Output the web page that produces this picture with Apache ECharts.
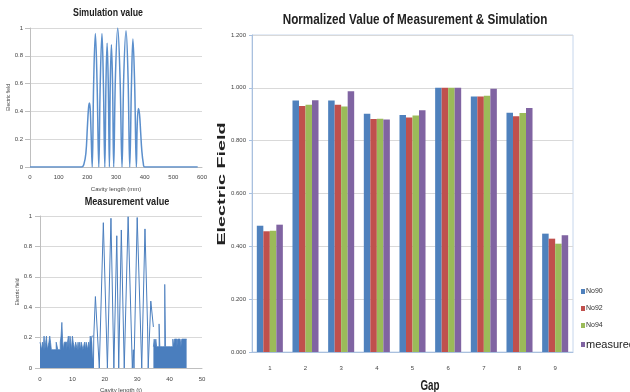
<!DOCTYPE html>
<html>
<head>
<meta charset="utf-8">
<script src="https://cdn.jsdelivr.net/npm/echarts@6/dist/echarts.min.js"></script>
<style>
  html, body { margin: 0; padding: 0; background: #fff; }
  #chart { width: 630px; height: 392px; }
</style>
</head>
<body>
<div id="chart"></div>
<script>
// Right: normalized field per gap (3 simulations + measurement)
const gaps = ['1', '2', '3', '4', '5', '6', '7', '8', '9'];
const no90 = [0.478, 0.952, 0.952, 0.902, 0.897, 1.000, 0.967, 0.906, 0.448];
const no92 = [0.457, 0.931, 0.936, 0.882, 0.888, 1.000, 0.967, 0.892, 0.429];
const no94 = [0.459, 0.936, 0.929, 0.883, 0.895, 1.000, 0.970, 0.905, 0.410];
const measured = [0.482, 0.953, 0.987, 0.880, 0.915, 1.000, 0.997, 0.924, 0.442];

// Top left: simulated field along the cavity (mm)
const simX = [0, 100, 180, 188, 195, 200, 204, 207, 210, 213, 217,
  222, 228, 234, 240, 245, 251, 256, 261, 265, 269, 273, 277,
  280, 284, 288, 292, 298, 306, 314, 321, 327, 335, 342, 348,
  354, 359, 365, 371, 374, 378, 382, 386, 390, 395, 400, 500, 585];
const simY = [0, 0, 0, 0.02, 0.1, 0.28, 0.42, 0.46, 0.42, 0.25, 0,
  0.6, 0.96, 0.6, 0, 0.6, 0.96, 0.6, 0, 0.6, 0.89, 0.6, 0,
  0.6, 0.88, 0.6, 0, 0.65, 1.0, 0.65, 0, 0.65, 0.98, 0.65, 0,
  0.6, 0.92, 0.6, 0, 0.3, 0.42, 0.38, 0.25, 0.12, 0.03, 0, 0, 0];

// Bottom left: measured field (t). Noise floor levels sampled every 0.25,
// drawn as a filled step trace (solid band in the picture).
const noiseStep = 0.25;
const noiseAStart = 0;
const noiseA = [0.17, 0.17, 0.17, 0.12, 0.17, 0.12, 0.21, 0.12, 0.17,
  0.21, 0.12, 0.12, 0.17, 0.21, 0.17, 0.12, 0.12, 0.12, 0.12, 0.12, 0.12,
  0.17, 0.17, 0.12, 0.12, 0.12, 0.17, 0.21, 0.30, 0.17, 0.12, 0.17, 0.17,
  0.17, 0.12, 0.17, 0.21, 0.12, 0.21, 0.17, 0.12, 0.21, 0.17, 0.17, 0.12,
  0.17, 0.17, 0.12, 0.17, 0.12, 0.17, 0.12, 0.17, 0.17, 0.12, 0.12, 0.17,
  0.12, 0.17, 0.17, 0.12, 0.17, 0.12, 0.21, 0.17, 0.21, 0.21];
const peakX = [16.5, 16.6, 17.1, 17.7, 18.3, 19.55, 20.8, 21.9, 22.8, 23.7, 24.3,
  25.1, 26.0, 27.2, 28.5, 28.8, 29.0, 30.0, 31.4, 32.4, 33.2, 33.4, 34.2, 35.0];
const peakY = [0, 0.21, 0.47, 0.47, 0, 0.956, 0, 0.985, 0, 0.87, 0,
  0.908, 0, 0.995, 0, 0.12, 0, 0.99, 0, 0.915, 0.27, 0, 0.44, 0.27];
const noiseBStart = 35.0;
const noiseB = [0.14, 0.14, 0.19, 0.14, 0.19, 0.14, 0.14, 0.14,
  0.29, 0.14, 0.14, 0.14, 0.14, 0.14, 0.14, 0.55, 0.14, 0.14, 0.14, 0.14,
  0.14, 0.14, 0.14, 0.14, 0.14, 0.19, 0.14, 0.19, 0.19, 0.19, 0.14, 0.19,
  0.19, 0.19, 0.19, 0.14, 0.19, 0.19, 0.19, 0.19, 0.19, 0.19];

const noisePoints = (start, levels) => levels.map((v, i) => [start + i * noiseStep, v]);
const simData = simX.map((x, i) => [x, simY[i]]);
const peakData = peakX.map((x, i) => [x, peakY[i]]);

const colors = ['#4F81BD', '#C0504D', '#9BBB59', '#8064A2'];
const measColor = '#4A7EBE';
const sans = 'Liberation Sans';
const small = { fontFamily: sans, fontSize: 6, color: '#444' };
const gridLine = { lineStyle: { color: '#D9D9D9', width: 1 } };

// titles drawn as graphic text so they can be squeezed like the narrow originals
function label(text, x, y, size, opts) {
  return Object.assign({
    type: 'text', x, y, silent: true,
    style: {
      text, x: 0, y: 0, align: 'center', verticalAlign: 'middle',
      fontFamily: sans, fontSize: size, fontWeight: 'bold', fill: '#222',
    },
  }, opts);
}

const chart = echarts.init(document.getElementById('chart'), null, { renderer: 'canvas' });

chart.setOption({
  animation: false,
  color: colors,
  graphic: [
    label('Normalized Value of Measurement & Simulation', 415, 20, 15, { scaleX: 0.78 }),
    label('Simulation value', 108, 13, 11, { scaleX: 0.8 }),
    label('Measurement value', 127, 202, 11, { scaleX: 0.83 }),
    label('Electric Field', 222, 184, 11, { rotation: Math.PI / 2, scaleX: 1.8 }),
    label('Gap', 430, 386, 14, { scaleX: 0.7 }),
  ],
  legend: {
    data: ['No90', 'No92', 'No94', 'measured'],
    orient: 'vertical',
    left: 576, top: 283,
    itemWidth: 4, itemHeight: 5, itemGap: 10,
    icon: 'rect',
    formatter: (name) => (name === 'measured' ? '{b|measured}' : '{s|' + name + '}'),
    textStyle: {
      padding: [0, 0, 0, -4],
      rich: {
        s: { fontFamily: sans, fontSize: 7, color: '#333' },
        b: { fontFamily: sans, fontSize: 11, color: '#222' },
      },
    },
  },
  grid: [
    { left: 252, right: 57, top: 35, bottom: 40, show: true, borderColor: '#C6D6EC', borderWidth: 1, outerBoundsMode: 'none' },
    { left: 30, width: 172, top: 28, height: 139, outerBoundsMode: 'none' },
    { left: 40, width: 162, top: 216, height: 152, outerBoundsMode: 'none' },
  ],
  xAxis: [
    {
      gridIndex: 0, type: 'category', data: gaps,
      axisLine: { lineStyle: { color: '#A9C0DE' } },
      axisTick: { show: false },
      axisLabel: { margin: 13, fontFamily: sans, fontSize: 6, color: '#444' },
    },
    {
      gridIndex: 1, type: 'value', min: 0, max: 600, interval: 100,
      axisLine: { lineStyle: { color: '#BFBFBF' } },
      axisTick: { show: false },
      splitLine: { show: false },
      axisLabel: Object.assign({ margin: 7 }, small),
      name: 'Cavity length (mm)', nameLocation: 'middle', nameGap: 19,
      nameTextStyle: Object.assign({}, small),
    },
    {
      gridIndex: 2, type: 'value', min: 0, max: 50, interval: 10,
      axisLine: { lineStyle: { color: '#BFBFBF' } },
      axisTick: { show: false },
      splitLine: { show: false },
      axisLabel: Object.assign({ margin: 8 }, small),
      name: 'Cavity length (t)', nameLocation: 'middle', nameGap: 19,
      nameTextStyle: Object.assign({}, small),
    },
  ],
  yAxis: [
    {
      gridIndex: 0, type: 'value', min: 0, max: 1.2, interval: 0.2,
      axisLine: { show: true, lineStyle: { color: '#A9C0DE' } },
      axisTick: { show: true, length: 3, lineStyle: { color: '#A9C0DE' } },
      splitLine: gridLine,
      axisLabel: {
        margin: 6, fontFamily: sans, fontSize: 6, color: '#444',
        formatter: (v) => v.toFixed(3),
      },
    },
    {
      gridIndex: 1, type: 'value', min: 0, max: 1, interval: 0.2,
      axisLine: { show: true, lineStyle: { color: '#BFBFBF' } },
      splitLine: gridLine,
      axisLabel: Object.assign({ margin: 7 }, small),
      name: 'Electric field', nameLocation: 'middle', nameGap: 17,
      nameTextStyle: Object.assign({}, small, { fontSize: 5 }),
    },
    {
      gridIndex: 2, type: 'value', min: 0, max: 1, interval: 0.2,
      axisLine: { show: true, lineStyle: { color: '#BFBFBF' } },
      splitLine: gridLine,
      axisLabel: Object.assign({ margin: 8 }, small),
      name: 'Electric field', nameLocation: 'middle', nameGap: 19,
      nameTextStyle: Object.assign({}, small, { fontSize: 5 }),
    },
  ],
  series: [
    { name: 'No90', type: 'bar', data: no90, barGap: '0%', barCategoryGap: '27%', itemStyle: { color: colors[0] } },
    { name: 'No92', type: 'bar', data: no92, itemStyle: { color: colors[1] } },
    { name: 'No94', type: 'bar', data: no94, itemStyle: { color: colors[2] } },
    { name: 'measured', type: 'bar', data: measured, itemStyle: { color: colors[3] } },
    {
      name: 'simulation', type: 'line', xAxisIndex: 1, yAxisIndex: 1,
      data: simData, smooth: 0.4, symbol: 'none',
      lineStyle: { color: '#5B8FCC', width: 1.5 },
    },
    {
      name: 'measurement noise A', type: 'line', xAxisIndex: 2, yAxisIndex: 2,
      data: noisePoints(noiseAStart, noiseA), step: 'start', symbol: 'none',
      lineStyle: { color: measColor, width: 0.8 },
      areaStyle: { color: measColor, opacity: 1 },
    },
    {
      name: 'measurement', type: 'line', xAxisIndex: 2, yAxisIndex: 2,
      data: peakData, symbol: 'none',
      lineStyle: { color: measColor, width: 1 },
    },
    {
      name: 'measurement noise B', type: 'line', xAxisIndex: 2, yAxisIndex: 2,
      data: noisePoints(noiseBStart, noiseB), step: 'start', symbol: 'none',
      lineStyle: { color: measColor, width: 0.8 },
      areaStyle: { color: measColor, opacity: 1 },
    },
  ],
});
</script>
</body>
</html>
